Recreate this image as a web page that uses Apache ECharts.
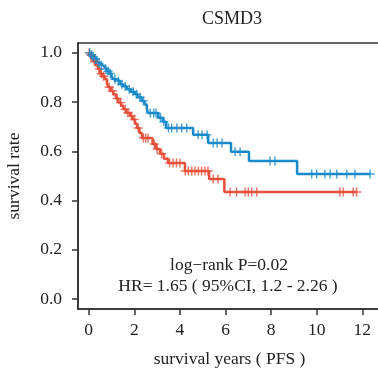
<!DOCTYPE html>
<html>
<head>
<meta charset="utf-8">
<script src="https://cdn.jsdelivr.net/npm/echarts@6/dist/echarts.min.js"></script>
<style>
html,body{margin:0;padding:0;background:#fff;}
#c{width:378px;height:374px;}
</style>
</head>
<body>
<div id="c"></div>
<script>
// ---- data ----
var title = 'CSMD3';
var xName = 'survival years ( PFS )';
var yName = 'survival rate';
var xTicks = [0, 2, 4, 6, 8, 10, 12];
var yTicks = [0, 0.2, 0.4, 0.6, 0.8, 1.0];
var annot1 = 'log\u2212rank P=0.02';
var annot2 = 'HR= 1.65 ( 95%CI, 1.2 - 2.26 )';

// group 1 (blue) step times and survival after each step
var blueTimes = [0, 0.08, 0.15, 0.25, 0.35, 0.42, 0.5, 0.6, 0.7, 0.8, 0.9, 1.0, 1.08, 1.2, 1.37, 1.5, 1.67, 1.85, 2.03, 2.15, 2.32, 2.45, 2.55, 2.6, 3.05, 3.25, 3.4, 4.58, 5.24, 6.24, 7.03, 9.14, 12.34];
var blueSurv  = [1.0, 0.992, 0.984, 0.976, 0.966, 0.958, 0.95, 0.942, 0.934, 0.925, 0.916, 0.905, 0.893, 0.885, 0.873, 0.864, 0.852, 0.842, 0.832, 0.82, 0.805, 0.79, 0.772, 0.756, 0.736, 0.72, 0.695, 0.667, 0.634, 0.598, 0.561, 0.508, 0.508];
var blueCensor = [0.04, 0.12, 0.2, 0.3, 0.45, 0.55, 0.75, 0.85, 0.95, 1.15, 1.3, 1.45, 1.6, 1.78, 1.95, 2.1, 2.25, 2.4, 2.7, 2.85, 2.95, 3.15, 3.3, 3.5, 3.64, 3.86, 4.08, 4.3, 4.8, 4.97, 5.19, 5.46, 5.63, 5.85, 6.42, 6.64, 7.95, 8.17, 9.78, 10.0, 10.36, 10.59, 10.88, 11.32, 11.68, 12.34];

// group 2 (red)
var redTimes = [0, 0.05, 0.13, 0.2, 0.3, 0.4, 0.5, 0.6, 0.71, 0.8, 0.86, 0.97, 1.08, 1.2, 1.3, 1.42, 1.52, 1.65, 1.81, 1.92, 2.03, 2.12, 2.22, 2.34, 2.8, 2.95, 3.13, 3.3, 3.48, 4.22, 5.28, 5.95, 11.77];
var redSurv  = [1.0, 0.99, 0.975, 0.965, 0.95, 0.935, 0.915, 0.905, 0.893, 0.875, 0.86, 0.845, 0.832, 0.815, 0.798, 0.785, 0.771, 0.757, 0.744, 0.73, 0.712, 0.695, 0.675, 0.654, 0.63, 0.61, 0.59, 0.57, 0.553, 0.52, 0.488, 0.435, 0.435];
var redCensor = [0.02, 0.1, 0.25, 0.45, 0.55, 0.65, 0.9, 1.05, 1.25, 1.4, 1.6, 1.72, 1.88, 2.0, 2.17, 2.4, 2.5, 2.6, 2.88, 3.0, 3.2, 3.55, 3.7, 3.85, 4.0, 4.23, 4.37, 4.52, 4.66, 4.81, 4.95, 5.1, 5.23, 5.46, 5.67, 6.2, 6.49, 6.86, 7.0, 7.15, 7.37, 11.02, 11.17, 11.6, 11.75];

var blueColor = '#1a8bca';
var redColor = '#e6503b';

function pairs(ts, ss) { return ts.map(function (t, i) { return [t, ss[i]]; }); }
function censorPts(cs, ts, ss) {
  return cs.map(function (c) {
    var v = ss[0];
    for (var i = 0; i < ts.length; i++) { if (ts[i] <= c) v = ss[i]; }
    return [c, v];
  });
}
var plus = 'path://M-0.16,-1 L0.16,-1 L0.16,-0.16 L1,-0.16 L1,0.16 L0.16,0.16 L0.16,1 L-0.16,1 L-0.16,0.16 L-1,0.16 L-1,-0.16 L-0.16,-0.16 Z';
var font = 'Liberation Serif';
var fs = 17.5;

var chart = echarts.init(document.getElementById('c'), null, {renderer: 'canvas'});
chart.setOption({
  animation: false,
  backgroundColor: '#fff',
  grid: {left: 78, top: 43, right: -3, bottom: 65, show: true, borderColor: '#333', borderWidth: 1.6,
    containLabel: false, outerBoundsMode: 'none'},
  xAxis: {
    type: 'value', min: -0.47, max: 12.82,
    splitLine: {show: false},
    axisLine: {show: true, onZero: false, lineStyle: {color: '#333', width: 1.6}},
    axisTick: {show: true, length: 6, lineStyle: {color: '#333', width: 1.5}, customValues: xTicks},
    axisLabel: {customValues: xTicks, color: '#222', fontFamily: font, fontSize: fs, margin: 12},
    name: xName, nameLocation: 'middle', nameGap: 41,
    nameTextStyle: {color: '#222', fontFamily: font, fontSize: fs}
  },
  yAxis: {
    type: 'value', min: -0.04, max: 1.04,
    splitLine: {show: false},
    axisLine: {show: true, onZero: false, lineStyle: {color: '#333', width: 1.6}},
    axisTick: {show: true, length: 6, lineStyle: {color: '#333', width: 1.5}, customValues: yTicks},
    axisLabel: {customValues: yTicks, color: '#222', fontFamily: font, fontSize: fs, margin: 16,
      formatter: function (v) { return v.toFixed(1); }},
    name: yName, nameLocation: 'middle', nameGap: 55, nameRotate: 90,
    nameTextStyle: {color: '#222', fontFamily: font, fontSize: fs}
  },
  graphic: [
    {type: 'text', style: {text: title, x: 232, y: 10, textAlign: 'center', fill: '#222', font: '18px "Liberation Serif"'}},
    {type: 'text', style: {text: annot1, x: 229, y: 256, textAlign: 'center', fill: '#222', font: fs + 'px "Liberation Serif"'}},
    {type: 'text', style: {text: annot2, x: 228, y: 277, textAlign: 'center', fill: '#222', font: fs + 'px "Liberation Serif"'}}
  ],
  series: [
    {type: 'line', step: 'end', data: pairs(redTimes, redSurv), showSymbol: false, symbol: 'none',
      lineStyle: {color: redColor, width: 2.5}, z: 2},
    {type: 'line', step: 'end', data: pairs(blueTimes, blueSurv), showSymbol: false, symbol: 'none',
      lineStyle: {color: blueColor, width: 2.5}, z: 3},
    {type: 'scatter', data: censorPts(redCensor, redTimes, redSurv), symbol: plus, symbolSize: 9,
      itemStyle: {color: redColor}, z: 4},
    {type: 'scatter', data: censorPts(blueCensor, blueTimes, blueSurv), symbol: plus, symbolSize: 9,
      itemStyle: {color: blueColor}, z: 5}
  ]
});
</script>
</body>
</html>
